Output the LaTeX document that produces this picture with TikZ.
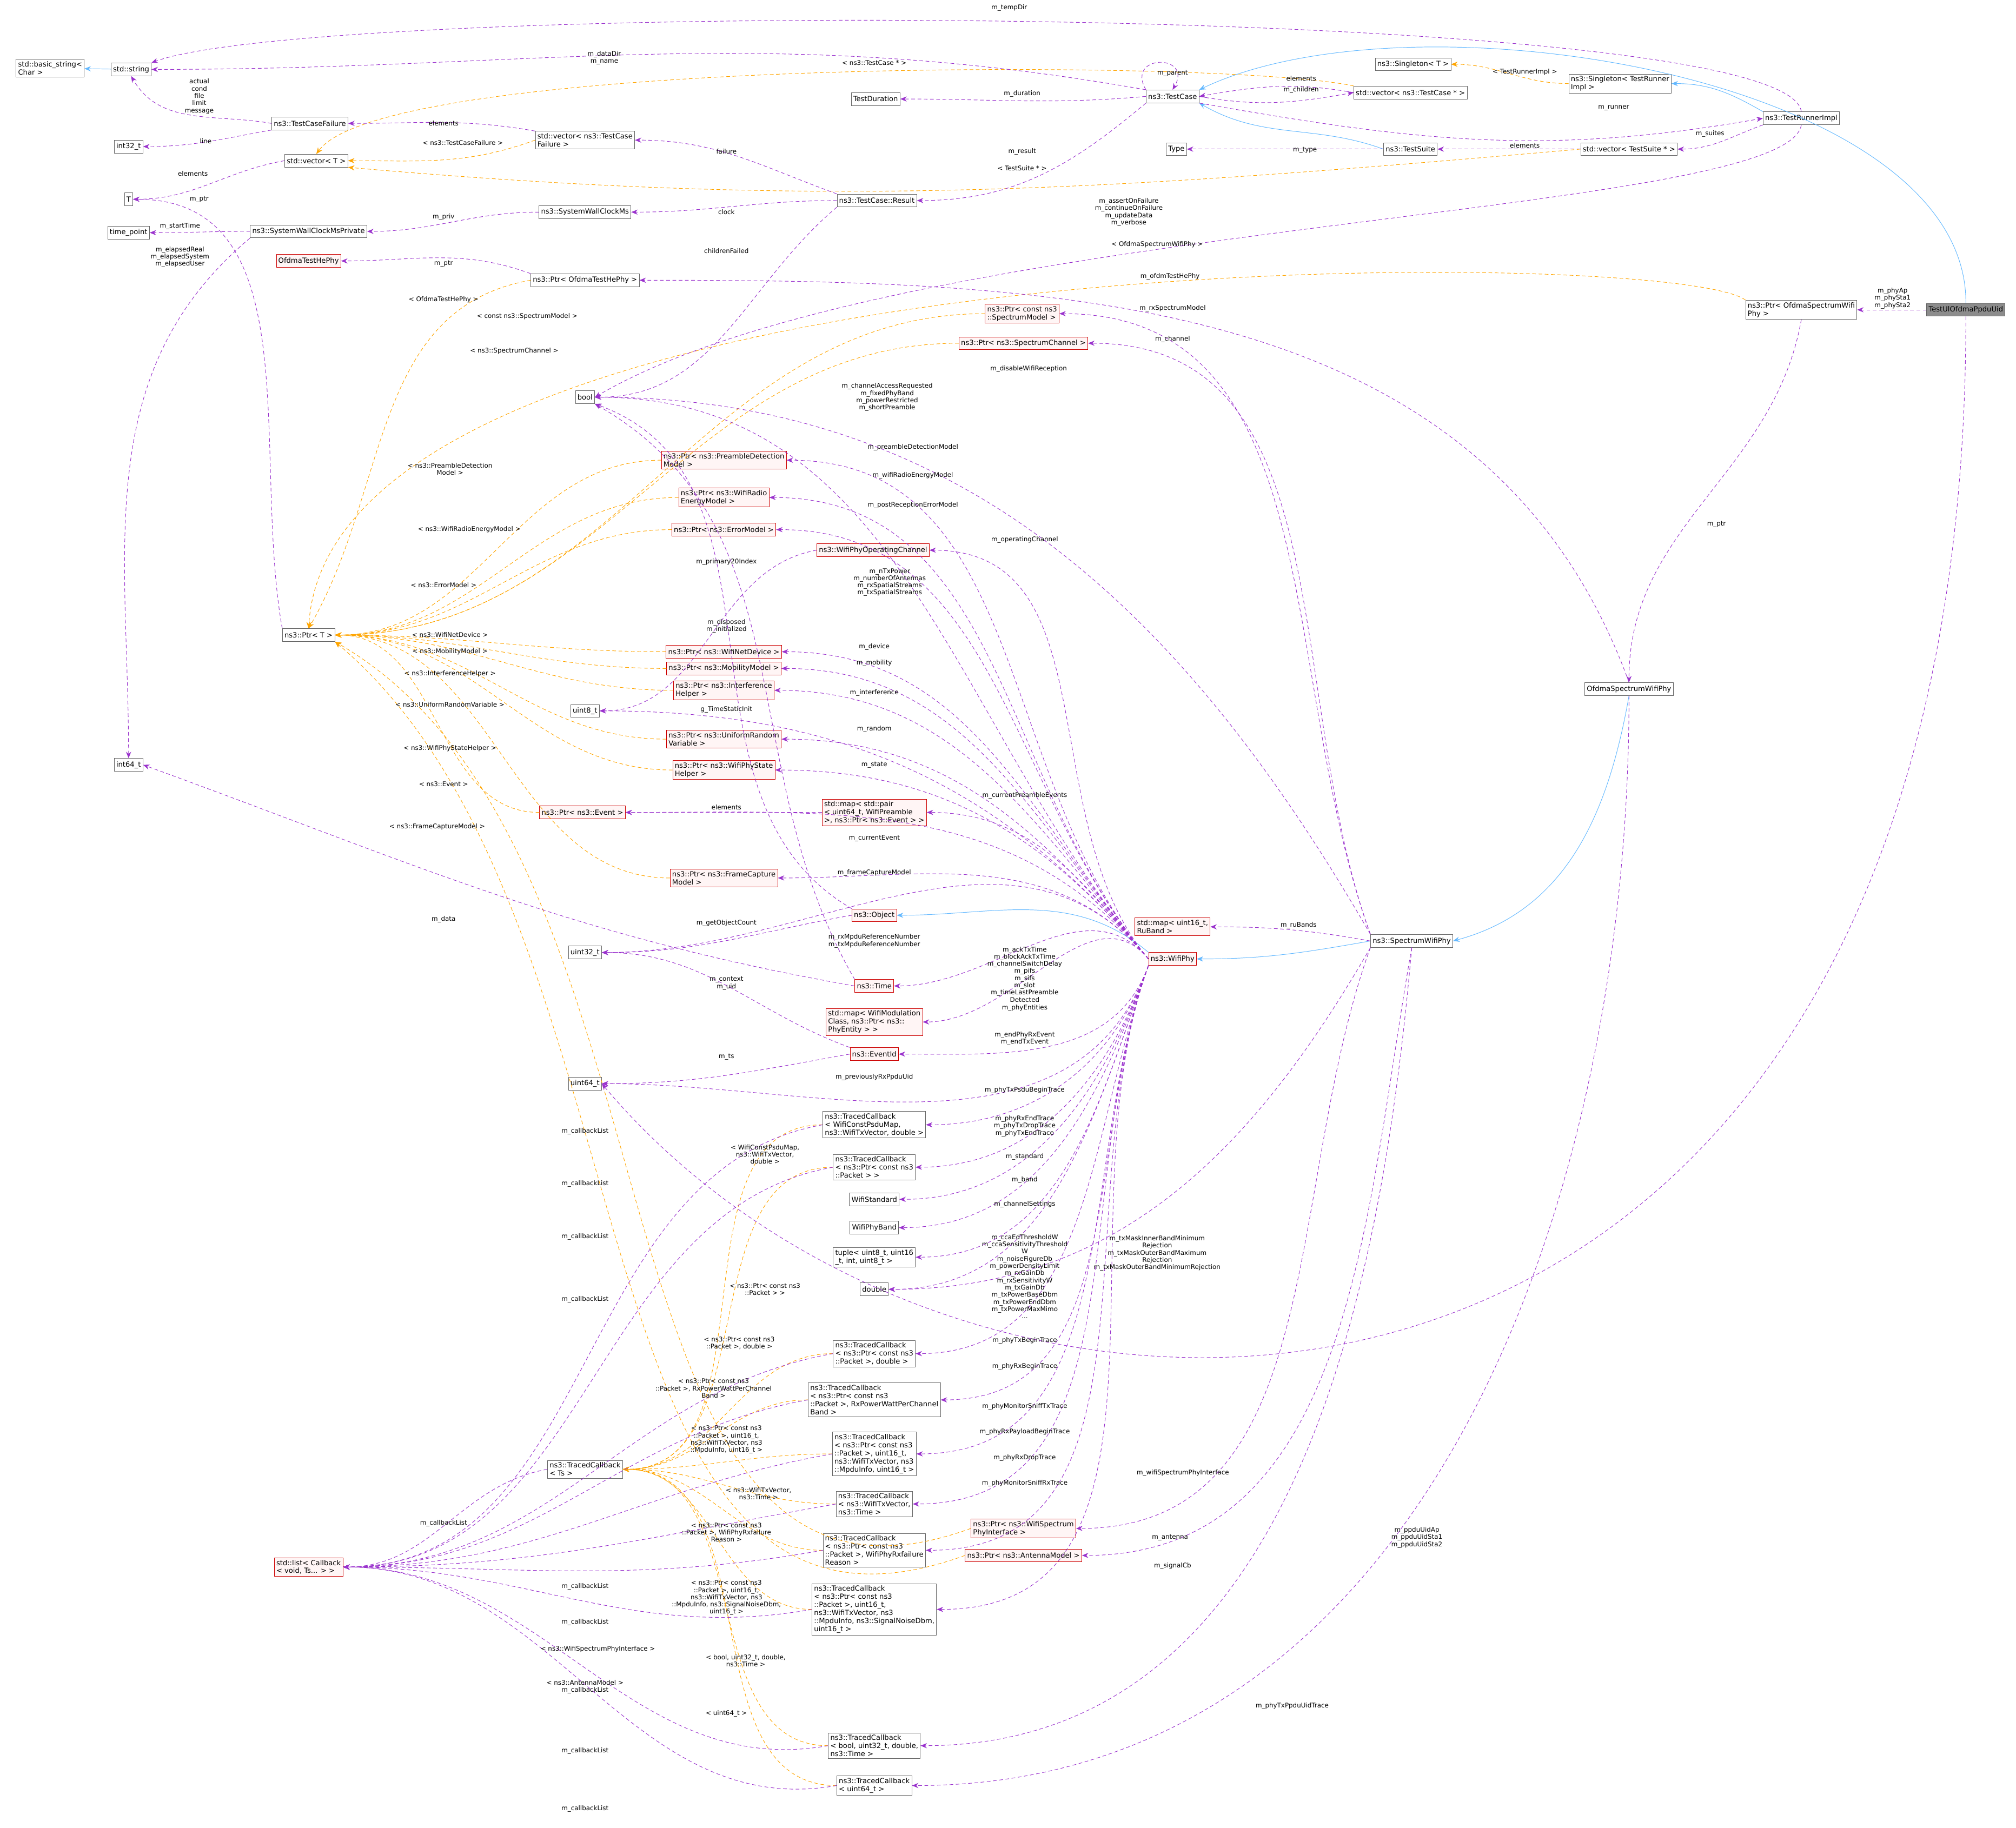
\documentclass[tikz,border=0pt]{standalone}
\usepackage{fontspec}
\setmainfont{DejaVu Sans}
\usetikzlibrary{arrows.meta,calc}
\definecolor{depcol}{HTML}{9A32CD}
\definecolor{tmplcol}{HTML}{FFA500}
\definecolor{inhcol}{HTML}{63B8FF}

\begin{document}
\begin{tikzpicture}[x=0.35pt, y=-0.35pt, font=\fontsize{1.93}{2.2}\selectfont,
box/.style={draw=black!60,fill=white,line width=0.12pt,inner sep=0.56pt,align=left,minimum height=3.5pt},
redbox/.style={box,draw=red!80!black,fill=red!4},
rootbox/.style={box,fill=black!45},
dep/.style={-{Stealth[length=1.75pt,width=1.4pt]},dash pattern=on 1pt off 0.7pt,depcol,line width=0.14pt},
tmpl/.style={-{Stealth[length=1.75pt,width=1.4pt]},dash pattern=on 1pt off 0.7pt,tmplcol,line width=0.14pt},
inh/.style={-{Stealth[length=1.75pt,width=1.4pt]},inhcol,line width=0.14pt},
lab/.style={inner sep=0pt,align=center,font=\fontsize{1.75}{1.96}\selectfont}
]
\useasboundingbox (0,0) rectangle (1568,1422);

% Nodes, left column
\node[box] (basicstr) at (39,53) {std::basic\_string<\\Char >};
\node[box] (string) at (102,54) {std::string};
\node[box] (int32) at (100,114) {int32\_t};
\node[box] (tparam) at (100,155) {T};
\node[box] (timepoint) at (100,181) {time\_point};
\node[box] (int64) at (100,595) {int64\_t};

% Nodes, second column
\node[box] (tcfail) at (241,96) {ns3::TestCaseFailure};
\node[box] (vect) at (246,125) {std::vector< T >};
\node[box] (swcmpriv) at (240,180) {ns3::SystemWallClockMsPrivate};
\node[redbox] (ofdmhe) at (240,203) {OfdmaTestHePhy};
\node[box] (ptrt) at (240,494) {ns3::Ptr< T >};
\node[redbox] (cblist) at (240,1219) {std::list< Callback\\< void, Ts... > >};

% Nodes, third column
\node[box] (tcfailvec) at (455,109) {std::vector< ns3::TestCase\\Failure >};
\node[box] (swcm) at (455,165) {ns3::SystemWallClockMs};
\node[box] (ptrofdmhe) at (455,218) {ns3::Ptr< OfdmaTestHePhy >};
\node[box] (bool) at (455,309) {bool};
\node[box] (uint8) at (455,553) {uint8\_t};
\node[box] (uint32) at (455,741) {uint32\_t};
\node[box] (uint64) at (455,843) {uint64\_t};
\node[box] (tcbts) at (455,1143) {ns3::TracedCallback\\< Ts >};
\node[redbox] (ptrevent) at (453,632) {ns3::Ptr< ns3::Event >};

% Nodes, Ptr column
\node[redbox] (ptrpream) at (563,358) {ns3::Ptr< ns3::PreambleDetection\\Model >};
\node[redbox] (ptrradio) at (563,387) {ns3::Ptr< ns3::WifiRadio\\EnergyModel >};
\node[redbox] (ptrerr) at (563,412) {ns3::Ptr< ns3::ErrorModel >};
\node[redbox] (ptrdev) at (563,507) {ns3::Ptr< ns3::WifiNetDevice >};
\node[redbox] (ptrmob) at (563,520) {ns3::Ptr< ns3::MobilityModel >};
\node[redbox] (ptrintf) at (563,537) {ns3::Ptr< ns3::Interference\\Helper >};
\node[redbox] (ptrrand) at (563,575) {ns3::Ptr< ns3::UniformRandom\\Variable >};
\node[redbox] (ptrstate) at (563,599) {ns3::Ptr< ns3::WifiPhyState\\Helper >};
\node[redbox] (ptrfcap) at (563,683) {ns3::Ptr< ns3::FrameCapture\\Model >};

% Nodes, middle column
\node[box] (tdur) at (681,77) {TestDuration};
\node[box] (tcres) at (682,156) {ns3::TestCase::Result};
\node[redbox] (opchan) at (679,428) {ns3::WifiPhyOperatingChannel};
\node[redbox] (mappre) at (680,632) {std::map< std::pair\\< uint64\_t, WifiPreamble\\>, ns3::Ptr< ns3::Event > >};
\node[redbox] (object) at (680,712) {ns3::Object};
\node[redbox] (time) at (680,767) {ns3::Time};
\node[redbox] (mapent) at (680,795) {std::map< WifiModulation\\Class, ns3::Ptr< ns3::\\PhyEntity > >};
\node[redbox] (eventid) at (680,820) {ns3::EventId};
\node[box] (tcb1) at (680,875) {ns3::TracedCallback\\< WifiConstPsduMap,\\ns3::WifiTxVector, double >};
\node[box] (tcb2) at (680,908) {ns3::TracedCallback\\< ns3::Ptr< const ns3\\::Packet > >};
\node[box] (wstd) at (680,933) {WifiStandard};
\node[box] (wband) at (680,955) {WifiPhyBand};
\node[box] (tuple) at (680,978) {tuple< uint8\_t, uint16\\\_t, int, uint8\_t >};
\node[box] (double) at (680,1003) {double};
\node[box] (tcb3) at (680,1053) {ns3::TracedCallback\\< ns3::Ptr< const ns3\\::Packet >, double >};
\node[box] (tcb4) at (680,1089) {ns3::TracedCallback\\< ns3::Ptr< const ns3\\::Packet >, RxPowerWattPerChannel\\Band >};
\node[box] (tcb5) at (680,1131) {ns3::TracedCallback\\< ns3::Ptr< const ns3\\::Packet >, uint16\_t,\\ns3::WifiTxVector, ns3\\::MpduInfo, uint16\_t >};
\node[box] (tcb6) at (680,1170) {ns3::TracedCallback\\< ns3::WifiTxVector,\\ns3::Time >};
\node[box] (tcb7) at (680,1206) {ns3::TracedCallback\\< ns3::Ptr< const ns3\\::Packet >, WifiPhyRxfailure\\Reason >};
\node[box] (tcb8) at (680,1252) {ns3::TracedCallback\\< ns3::Ptr< const ns3\\::Packet >, uint16\_t,\\ns3::WifiTxVector, ns3\\::MpduInfo, ns3::SignalNoiseDbm,\\uint16\_t >};
\node[box] (tcb9) at (680,1358) {ns3::TracedCallback\\< bool, uint32\_t, double,\\ns3::Time >};
\node[box] (tcb10) at (680,1389) {ns3::TracedCallback\\< uint64\_t >};
\node[redbox] (ptrspmod) at (795,244) {ns3::Ptr< const ns3\\::SpectrumModel >};
\node[redbox] (ptrspch) at (796,267) {ns3::Ptr< ns3::SpectrumChannel >};
\node[redbox] (ptrwsi) at (796,1189) {ns3::Ptr< ns3::WifiSpectrum\\PhyInterface >};
\node[redbox] (ptrant) at (796,1210) {ns3::Ptr< ns3::AntennaModel >};

% Nodes, right part
\node[box] (testcase) at (912,75) {ns3::TestCase};
\node[box] (type) at (915,116) {Type};
\node[redbox] (maprub) at (912,721) {std::map< uint16\_t,\\RuBand >};
\node[redbox] (wifiphy) at (912,746) {ns3::WifiPhy};
\node[box] (singt) at (1099,50) {ns3::Singleton< T >};
\node[box] (vectc) at (1097,72) {std::vector< ns3::TestCase * >};
\node[box] (tsuite) at (1097,116) {ns3::TestSuite};
\node[box] (spwphy) at (1098,732) {ns3::SpectrumWifiPhy};
\node[box] (singtri) at (1260,65) {ns3::Singleton< TestRunner\\Impl >};
\node[box] (vects) at (1267,116) {std::vector< TestSuite * >};
\node[box] (ofdmphy) at (1267,536) {OfdmaSpectrumWifiPhy};
\node[box] (trimpl) at (1401,92) {ns3::TestRunnerImpl};
\node[box] (ptrofdm) at (1401,241) {ns3::Ptr< OfdmaSpectrumWifi\\Phy >};
\node[rootbox] (root) at (1529,241) {TestUlOfdmaPpduUid};

% Inheritance
\draw[inh] (string) -- (basicstr);
\draw[inh] (root.north) .. controls (1530,60) and (1100,-10) .. (testcase.north east);
\draw[inh] (trimpl.north west) to[out=150,in=0] (singtri.east);
\draw[inh] (tsuite.west) to[out=160,in=-30] (testcase.south east);
\draw[inh] (ofdmphy.south) to[out=-100,in=15] (spwphy.east);
\draw[inh] (spwphy.west) to[out=190,in=0] (wifiphy.east);
\draw[inh] (wifiphy.north west) to[out=140,in=0] (object.east);

% Templates
\draw[tmpl] (vectc.north west) .. controls (950,45) and (300,45) .. (vect.north);
\draw[tmpl] (tcfailvec.west) to[out=200,in=0] (vect.east);
\draw[tmpl] (vects.west) to[out=185,in=-5] (vect.south east);
\draw[tmpl] (singtri.west) to[out=180,in=0] (singt.east);
\draw[tmpl] (ptrofdm.north west) .. controls (1300,190) and (260,185) .. (ptrt.north);
\draw[tmpl] (ptrofdmhe.west) to[out=190,in=60] (ptrt.north);
\foreach \p in {ptrspmod,ptrspch,ptrpream,ptrradio,ptrerr,ptrdev,ptrmob,ptrintf,ptrrand,ptrstate,ptrevent,ptrfcap}
  \draw[tmpl] (\p.west) to[out=180,in=0] (ptrt.east);
\draw[tmpl] (ptrwsi.west) to[out=200,in=-30] (ptrt.south east);
\draw[tmpl] (ptrant.west) to[out=200,in=-40] (ptrt.south east);
\foreach \c in {tcb1,tcb2,tcb3,tcb4,tcb5,tcb6,tcb7,tcb8,tcb9,tcb10}
  \draw[tmpl] (\c.west) to[out=180,in=0] (tcbts.east);

% Members
\draw[dep] (tcfail.west) to[out=170,in=-60] (string.south);
\draw[dep] (tcfail.south west) to[out=190,in=0] (int32.east);
\draw[dep] (vect.west) to[out=190,in=0] (tparam.east);
\draw[dep] (ptrt.north west) to[out=100,in=0] (tparam.east);
\draw[dep] (swcmpriv.west) to[out=180,in=0] (timepoint.east);
\draw[dep] (swcmpriv.south west) to[out=220,in=90] (int64.north);
\draw[dep] (tcfailvec.north west) to[out=170,in=0] (tcfail.east);
\draw[dep] (swcm.west) to[out=180,in=0] (swcmpriv.east);
\draw[dep] (ptrofdmhe.north west) to[out=160,in=0] (ofdmhe.east);
\draw[dep] (tcbts.west) to[out=190,in=0] (cblist.east);
\draw[dep] (testcase.north west) to[out=170,in=0] (string.east);
\draw[dep] (trimpl.north) .. controls (1390,0) and (250,0) .. (string.north east);
\draw[dep] (testcase.west) to[out=185,in=0] (tdur.east);
\draw[dep] (testcase.south west) to[out=220,in=0] (tcres.east);
\draw[dep] (testcase.north west) to[out=120,in=60,looseness=4] (testcase.north);
\draw[dep] (testcase.east) to[out=-10,in=190] (vectc.west);
\draw[dep] (vectc.west) to[out=170,in=10] (testcase.east);
\draw[dep] (testcase.south east) to[out=-10,in=190] (trimpl.west);
\draw[dep] (tsuite.west) -- (type.east);
\draw[dep] (vects.west) -- (tsuite.east);
\draw[dep] (trimpl.south west) to[out=200,in=0] (vects.east);
\draw[dep] (trimpl.south) .. controls (1390,170) and (700,170) .. (bool.east);
\draw[dep] (tcres.north west) to[out=160,in=0] (tcfailvec.east);
\draw[dep] (tcres.west) to[out=180,in=0] (swcm.east);
\draw[dep] (tcres.south west) to[out=220,in=0] (bool.east);
\draw[dep] (root.west) -- (ptrofdm.east);
\draw[dep] (root.south) .. controls (1529,1190) and (760,1190) .. (uint64.east);
\draw[dep] (ptrofdm.south) to[out=-100,in=90] (ofdmphy.north);
\draw[dep] (ofdmphy.north) to[out=110,in=0] (ptrofdmhe.east);
\draw[dep] (ofdmphy.south) to[out=-90,in=0] (tcb10.east);
\draw[dep] (spwphy.north west) to[out=110,in=0] (ptrspmod.east);
\draw[dep] (spwphy.north west) to[out=110,in=0] (ptrspch.east);
\draw[dep] (spwphy.north west) to[out=120,in=0] (bool.east);
\draw[dep] (spwphy.west) to[out=170,in=0] (maprub.east);
\draw[dep] (spwphy.south west) to[out=240,in=0] (double.east);
\draw[dep] (spwphy.south west) to[out=250,in=0] (ptrwsi.east);
\draw[dep] (spwphy.south) to[out=260,in=0] (ptrant.east);
\draw[dep] (spwphy.south) to[out=265,in=0] (tcb9.east);
\foreach \t in {bool,ptrpream,ptrradio,ptrerr,opchan,uint8,ptrdev,ptrmob,ptrintf,ptrrand,ptrstate,mappre,ptrevent,ptrfcap,uint32,time,mapent}
  \draw[dep] (wifiphy.west) to[out=130,in=0] (\t.east);
\foreach \t in {eventid,uint64,tcb1,tcb2,wstd,wband,tuple,double,tcb3,tcb4,tcb5,tcb6,tcb7,tcb8}
  \draw[dep] (wifiphy.south west) to[out=250,in=0] (\t.east);
\draw[dep] (opchan.west) to[out=190,in=0] (uint8.east);
\draw[dep] (object.north west) to[out=150,in=-20] (bool.south east);
\draw[dep] (time.north west) to[out=120,in=-30] (bool.south east);
\draw[dep] (mappre.west) -- (ptrevent.east);
\draw[dep] (object.west) to[out=190,in=0] (uint32.east);
\draw[dep] (eventid.north west) to[out=160,in=0] (uint32.east);
\draw[dep] (eventid.west) to[out=190,in=0] (uint64.east);
\draw[dep] (time.west) to[out=170,in=-20] (int64.east);
\foreach \c in {tcb1,tcb2,tcb3,tcb4,tcb5,tcb6,tcb7,tcb8,tcb9,tcb10}
  \draw[dep] (\c.west) to[out=190,in=0] (cblist.east);

% Labels
\node[lab] (l1) at (155,75) {actual\\cond\\file\\limit\\message};
\node[lab] (l2) at (160,110) {line};
\node[lab] (l3) at (150,135) {elements};
\node[lab] (l4) at (155,155) {m\_ptr};
\node[lab] (l5) at (140,176) {m\_startTime};
\node[lab] (l6) at (140,200) {m\_elapsedReal\\m\_elapsedSystem\\m\_elapsedUser};
\node[lab] (l7) at (345,96) {elements};
\node[lab] (l8) at (345,169) {m\_priv};
\node[lab] (l9) at (345,205) {m\_ptr};
\node[lab] (l10) at (345,1185) {m\_callbackList};
\node[lab] (l11) at (470,45) {m\_dataDir\\m\_name};
\node[lab] (l12) at (785,6) {m\_tempDir};
\node[lab] (l13) at (795,73) {m\_duration};
\node[lab] (l14) at (795,118) {m\_result};
\node[lab] (l15) at (912,57) {m\_parent};
\node[lab] (l16) at (1012,61) {elements};
\node[lab] (l17) at (1012,70) {m\_children};
\node[lab] (l18) at (1255,84) {m\_runner};
\node[lab] (l19) at (1015,117) {m\_type};
\node[lab] (l20) at (1186,113) {elements};
\node[lab] (l21) at (1330,104) {m\_suites};
\node[lab] (l22) at (878,165) {m\_assertOnFailure\\m\_continueOnFailure\\m\_updateData\\m\_verbose};
\node[lab] (l23) at (565,118) {failure};
\node[lab] (l24) at (565,165) {clock};
\node[lab] (l25) at (565,195) {childrenFailed};
\node[lab] (l26) at (1472,232) {m\_phyAp\\m\_phySta1\\m\_phySta2};
\node[lab] (l27) at (1102,1196) {m\_ppduUidAp\\m\_ppduUidSta1\\m\_ppduUidSta2};
\node[lab] (l28) at (1335,408) {m\_ptr};
\node[lab] (l29) at (910,215) {m\_ofdmTestHePhy};
\node[lab] (l30) at (912,240) {m\_rxSpectrumModel};
\node[lab] (l31) at (912,264) {m\_channel};
\node[lab] (l32) at (800,287) {m\_disableWifiReception};
\node[lab] (l33) at (1010,720) {m\_ruBands};
\node[lab] (l34) at (900,975) {m\_txMaskInnerBandMinimum\\Rejection\\m\_txMaskOuterBandMaximum\\Rejection\\m\_txMaskOuterBandMinimumRejection};
\node[lab] (l35) at (1005,1327) {m\_phyTxPpduUidTrace};
\node[lab] (l36) at (920,1146) {m\_wifiSpectrumPhyInterface};
\node[lab] (l37) at (910,1196) {m\_antenna};
\node[lab] (l38) at (912,1218) {m\_signalCb};
\node[lab] (l39) at (690,309) {m\_channelAccessRequested\\m\_fixedPhyBand\\m\_powerRestricted\\m\_shortPreamble};
\node[lab] (l40) at (710,348) {m\_preambleDetectionModel};
\node[lab] (l41) at (710,370) {m\_wifiRadioEnergyModel};
\node[lab] (l42) at (710,393) {m\_postReceptionErrorModel};
\node[lab] (l43) at (797,420) {m\_operatingChannel};
\node[lab] (l44) at (565,437) {m\_primary20Index};
\node[lab] (l45) at (692,453) {m\_nTxPower\\m\_numberOfAntennas\\m\_rxSpatialStreams\\m\_txSpatialStreams};
\node[lab] (l46) at (565,487) {m\_disposed\\m\_initialized};
\node[lab] (l47) at (680,503) {m\_device};
\node[lab] (l48) at (680,516) {m\_mobility};
\node[lab] (l49) at (680,539) {m\_interference};
\node[lab] (l50) at (565,552) {g\_TimeStaticInit};
\node[lab] (l51) at (680,567) {m\_random};
\node[lab] (l52) at (680,595) {m\_state};
\node[lab] (l53) at (565,628) {elements};
\node[lab] (l54) at (797,619) {m\_currentPreambleEvents};
\node[lab] (l55) at (680,652) {m\_currentEvent};
\node[lab] (l56) at (680,679) {m\_frameCaptureModel};
\node[lab] (l57) at (565,718) {m\_getObjectCount};
\node[lab] (l58) at (680,732) {m\_rxMpduReferenceNumber\\m\_txMpduReferenceNumber};
\node[lab] (l59) at (565,765) {m\_context\\m\_uid};
\node[lab] (l60) at (797,758) {m\_ackTxTime\\m\_blockAckTxTime\\m\_channelSwitchDelay\\m\_pifs\\m\_sifs\\m\_slot\\m\_timeLastPreamble\\Detected};
\node[lab] (l61) at (565,822) {m\_ts};
\node[lab] (l62) at (797,784) {m\_phyEntities};
\node[lab] (l63) at (797,808) {m\_endPhyRxEvent\\m\_endTxEvent};
\node[lab] (l64) at (680,838) {m\_previouslyRxPpduUid};
\node[lab] (l65) at (797,848) {m\_phyTxPsduBeginTrace};
\node[lab] (l66) at (797,876) {m\_phyRxEndTrace\\m\_phyTxDropTrace\\m\_phyTxEndTrace};
\node[lab] (l67) at (797,900) {m\_standard};
\node[lab] (l68) at (797,918) {m\_band};
\node[lab] (l69) at (797,937) {m\_channelSettings};
\node[lab] (l70) at (797,993) {m\_ccaEdThresholdW\\m\_ccaSensitivityThreshold\\W\\m\_noiseFigureDb\\m\_powerDensityLimit\\m\_rxGainDb\\m\_rxSensitivityW\\m\_txGainDb\\m\_txPowerBaseDbm\\m\_txPowerEndDbm\\m\_txPowerMaxMimo\\...};
\node[lab] (l71) at (797,1043) {m\_phyTxBeginTrace};
\node[lab] (l72) at (797,1063) {m\_phyRxBeginTrace};
\node[lab] (l73) at (797,1094) {m\_phyMonitorSniffTxTrace};
\node[lab] (l74) at (797,1114) {m\_phyRxPayloadBeginTrace};
\node[lab] (l75) at (797,1134) {m\_phyRxDropTrace};
\node[lab] (l76) at (797,1154) {m\_phyMonitorSniffRxTrace};
\node[lab] (l77) at (345,715) {m\_data};
\node[lab] (l78) at (680,49) {< ns3::TestCase * >};
\node[lab] (l79) at (360,111) {< ns3::TestCaseFailure >};
\node[lab] (l80) at (795,131) {< TestSuite * >};
\node[lab] (l81) at (1186,56) {< TestRunnerImpl >};
\node[lab] (l82) at (900,190) {< OfdmaSpectrumWifiPhy >};
\node[lab] (l83) at (345,233) {< OfdmaTestHePhy >};
\node[lab] (l84) at (410,246) {< const ns3::SpectrumModel >};
\node[lab] (l85) at (400,273) {< ns3::SpectrumChannel >};
\node[lab] (l86) at (350,365) {< ns3::PreambleDetection\\Model >};
\node[lab] (l87) at (365,412) {< ns3::WifiRadioEnergyModel >};
\node[lab] (l88) at (345,455) {< ns3::ErrorModel >};
\node[lab] (l89) at (350,494) {< ns3::WifiNetDevice >};
\node[lab] (l90) at (350,507) {< ns3::MobilityModel >};
\node[lab] (l91) at (350,524) {< ns3::InterferenceHelper >};
\node[lab] (l92) at (350,548) {< ns3::UniformRandomVariable >};
\node[lab] (l93) at (350,582) {< ns3::WifiPhyStateHelper >};
\node[lab] (l94) at (345,610) {< ns3::Event >};
\node[lab] (l95) at (340,643) {< ns3::FrameCaptureModel >};
\node[lab] (l96) at (465,1283) {< ns3::WifiSpectrumPhyInterface >};
\node[lab] (l97) at (455,1309) {< ns3::AntennaModel >};
\node[lab] (l98) at (595,898) {< WifiConstPsduMap,\\ns3::WifiTxVector,\\double >};
\node[lab] (l99) at (595,1003) {< ns3::Ptr< const ns3\\::Packet > >};
\node[lab] (l100) at (575,1045) {< ns3::Ptr< const ns3\\::Packet >, double >};
\node[lab] (l101) at (555,1080) {< ns3::Ptr< const ns3\\::Packet >, RxPowerWattPerChannel\\Band >};
\node[lab] (l102) at (565,1120) {< ns3::Ptr< const ns3\\::Packet >, uint16\_t,\\ns3::WifiTxVector, ns3\\::MpduInfo, uint16\_t >};
\node[lab] (l103) at (590,1162) {< ns3::WifiTxVector,\\ns3::Time >};
\node[lab] (l104) at (565,1192) {< ns3::Ptr< const ns3\\::Packet >, WifiPhyRxfailure\\Reason >};
\node[lab] (l105) at (565,1243) {< ns3::Ptr< const ns3\\::Packet >, uint16\_t,\\ns3::WifiTxVector, ns3\\::MpduInfo, ns3::SignalNoiseDbm,\\uint16\_t >};
\node[lab] (l106) at (580,1292) {< bool, uint32\_t, double,\\ns3::Time >};
\node[lab] (l107) at (565,1333) {< uint64\_t >};
\foreach \y [count=\i] in {880,921,962,1011,1234,1262,1315,1362,1407}
  \node[lab] (cbl\i) at (455,\y) {m\_callbackList};
\end{tikzpicture}
\end{document}
